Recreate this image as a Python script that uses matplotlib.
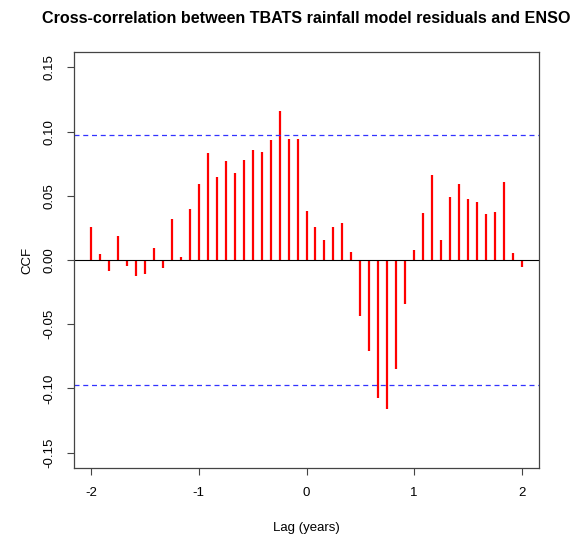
import numpy as np
import matplotlib.pyplot as plt

plt.rcParams['font.family'] = ['Liberation Sans', 'DejaVu Sans']
plt.rcParams['axes.unicode_minus'] = False

# monthly lags from -24 to +24 months, shown in years
lag_months = np.arange(-24, 25)
lags = lag_months / 12

ccf = [0.026, 0.0047, -0.0084, 0.019, -0.005, -0.0128, -0.0107, 0.009,
       -0.006, 0.032, 0.0023, 0.040, 0.0588, 0.083, 0.0643, 0.0768,
       0.0674, 0.078, 0.0856, 0.084, 0.0934, 0.1159, 0.0945, 0.0945,
       0.0385, 0.0255, 0.0156, 0.0255, 0.0291, 0.0062, -0.0435, -0.0711,
       -0.1076, -0.1159, -0.0852, -0.0339, 0.0078, 0.0367, 0.0661, 0.0156,
       0.0487, 0.0594, 0.0473, 0.0453, 0.0356, 0.0372, 0.0604, 0.0052,
       -0.0055]
conf_limit = 0.0976

fig = plt.figure(figsize=(5.71, 5.37), dpi=100)
ax = fig.add_axes([0.1296, 0.1285, 0.8144, 0.7747])

ax.vlines(lags, 0, ccf, colors='#ff0000', linewidth=1.6)
ax.axhline(0, color='black', linewidth=0.8)
for lim in (conf_limit, -conf_limit):
    ax.axhline(lim, color='#3333ff', linewidth=0.9, linestyle=(0, (4, 3)))

ax.set_xlim(-2.16, 2.16)
ax.set_ylim(-0.162, 0.162)
ax.set_xticks([-2, -1, 0, 1, 2])
ax.set_yticks([-0.15, -0.10, -0.05, 0.0, 0.05, 0.10, 0.15])
ax.set_yticklabels(['-0.15', '-0.10', '-0.05', '0.00', '0.05', '0.10', '0.15'],
                   rotation=90, va='center')

for side in ax.spines.values():
    side.set_color('#444444')
    side.set_linewidth(0.9)
ax.tick_params(axis='both', direction='out', length=5, width=0.8,
               color='#444444', labelsize=9.5)
ax.tick_params(axis='x', pad=9)
ax.tick_params(axis='y', pad=8.5)

ax.set_xlabel('Lag (years)', fontsize=9.5, labelpad=16)
ax.set_ylabel('CCF', fontsize=9.5, labelpad=7)
ax.set_title('Cross-correlation between TBATS rainfall model residuals and ENSO',
             fontsize=11.6, fontweight='bold', pad=21)

fig.savefig('out.png', dpi=100)
